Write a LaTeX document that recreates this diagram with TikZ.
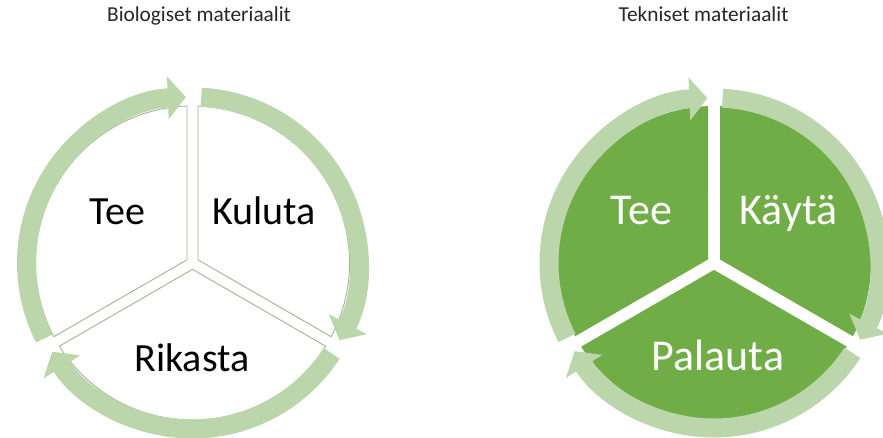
\documentclass[tikz,border=0pt]{standalone}
\usepackage{fontspec}
\setmainfont{Carlito}
\usetikzlibrary{arrows.meta}
\definecolor{rengas}{RGB}{187,214,170}
\definecolor{vihrea}{RGB}{112,173,71}

\begin{document}
\begin{tikzpicture}
  [
    x = 1pt, y = 1pt,
    otsikko/.style = {anchor=base, text=black!85, font=\fontsize{21.3}{25}\selectfont},
    vaihe/.style = {anchor=base, font=\fontsize{40}{48}\selectfont},
    kaari/.style = {draw=rengas, line width=19pt, -{Triangle[width=42pt,length=18pt]}},
    bio sektori/.style = {draw=rengas!85!black, line width=0.9pt, fill=white},
    tek sektori/.style = {fill=vihrea},
  ]

  \useasboundingbox (0,0) rectangle (883,438);

  \coordinate (bio) at (192.5,175);
  \coordinate (tek) at (714,175);

  \node[otsikko] (bio otsikko) at (199,416) {Biologiset materiaalit};
  \node[otsikko] (tek otsikko) at (703.5,416) {Tekniset materiaalit};

  \begin{scope}[shift={(bio)}]
    \foreach \b in {150,30,270}
      \draw[bio sektori] (\b:6.35) -- (\b-58:157) arc[start angle=\b-58, end angle=\b+58, radius=157pt] -- cycle;
    \foreach \d in {90,-30,-150}
      \draw[kaari] (\d+117:166) arc[start angle=\d+117, end angle=\d+2.3, radius=166pt];
  \end{scope}

  \begin{scope}[shift={(tek)}]
    \foreach \b in {150,30,270}
      \fill[tek sektori] (\b:6.93) -- (\b-57.8:157) arc[start angle=\b-57.8, end angle=\b+57.8, radius=157pt] -- cycle;
    \foreach \d in {90,-30,-150}
      \draw[kaari] (\d+117:165) arc[start angle=\d+117, end angle=\d+2.3, radius=165pt];
  \end{scope}

  \node[vaihe] (bio tee) at (117.5,213) {Tee};
  \node[vaihe] (bio kuluta) at (264,213) {Kuluta};
  \node[vaihe] (bio rikasta) at (192,66) {Rikasta};

  \node[vaihe, text=white, font=\fontsize{44}{52}\selectfont] (tek tee) at (641.5,213) {Tee};
  \node[vaihe, text=white, font=\fontsize{44}{52}\selectfont] (tek kayta) at (788.5,213) {Käytä};
  \node[vaihe, text=white, font=\fontsize{44}{52}\selectfont] (tek palauta) at (718,67) {Palauta};

\end{tikzpicture}
\end{document}
